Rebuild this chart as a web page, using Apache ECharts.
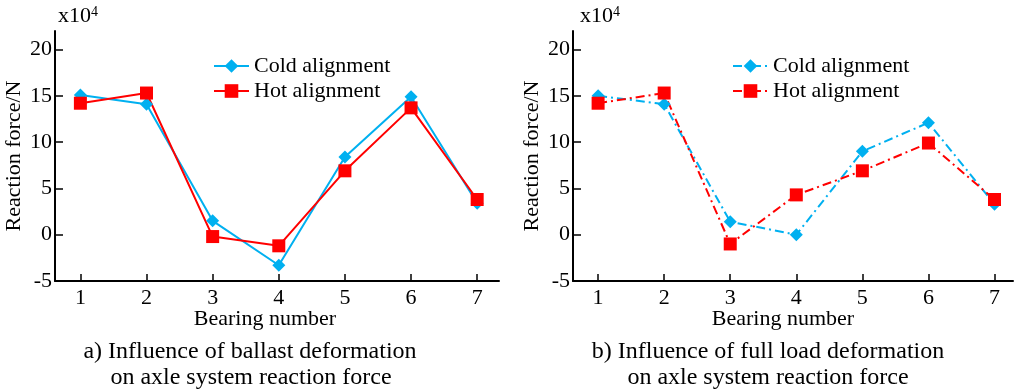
<!DOCTYPE html>
<html>
<head>
<meta charset="utf-8">
<script src="https://cdn.jsdelivr.net/npm/echarts@6/dist/echarts.min.js"></script>
<style>
html,body{margin:0;padding:0;background:#fff;}
#c{width:1022px;height:389px;}
</style>
</head>
<body>
<div id="c"></div>
<script>
// ---- data ----
const bearings = [1, 2, 3, 4, 5, 6, 7];
const yTicks = [-5, 0, 5, 10, 15, 20];
const seriesNames = ['Cold alignment', 'Hot alignment'];
// a) ballast deformation (x10^4 N)
const coldA = [15.1, 14.1, 1.5, -3.3, 8.4, 14.9, 3.4];
const hotA  = [14.2, 15.3, -0.2, -1.2, 6.9, 13.7, 3.8];
// b) full load deformation (x10^4 N)
const coldB = [15.0, 14.1, 1.4, 0.0, 9.0, 12.1, 3.3];
const hotB  = [14.2, 15.3, -1.0, 4.3, 6.9, 9.9, 3.8];
const xLabel = 'Bearing number';
const yLabel = 'Reaction force/N';
const captionA = ['a) Influence of ballast deformation', 'on axle system reaction force'];
const captionB = ['b) Influence of full load deformation', 'on axle system reaction force'];

const CYAN = '#00B0F0', RED = '#FF0000';
const FONT = 'Liberation Serif';
const FS = 22;
const pts = arr => bearings.map((b, i) => [b, arr[i]]);

function xAxis(idx, min, max) {
  return {
    gridIndex: idx, type: 'value', min: min, max: max,
    axisLine: {show: true, onZero: false, lineStyle: {color: '#000', width: 2}},
    axisTick: {show: true, inside: true, length: 7, customValues: bearings, lineStyle: {color: '#000', width: 1.5}},
    axisLabel: {customValues: bearings, color: '#000', fontFamily: FONT, fontSize: FS, margin: 6},
    splitLine: {show: false}
  };
}
function yAxis(idx) {
  return {
    gridIndex: idx, type: 'value', min: -5, max: 22,
    name: yLabel, nameLocation: 'middle', nameRotate: 90, nameGap: 30,
    nameTextStyle: {color: '#000', fontFamily: FONT, fontSize: FS},
    axisLine: {show: true, onZero: false, lineStyle: {color: '#000', width: 2}},
    axisTick: {show: true, inside: true, length: 8, customValues: yTicks, lineStyle: {color: '#000', width: 1.5}},
    axisLabel: {customValues: yTicks, color: '#000', fontFamily: FONT, fontSize: FS, margin: 3},
    splitLine: {show: false}
  };
}
function series(name, data, idx, color, symbol, size, dashed) {
  return {
    name: name, type: 'line', xAxisIndex: idx, yAxisIndex: idx, data: data,
    symbol: symbol, symbolSize: size, showSymbol: true,
    itemStyle: {color: color},
    lineStyle: {color: color, width: 2, type: dashed ? [9, 4, 2, 4] : 'solid'},
    emphasis: {disabled: true}, animation: false
  };
}
function caption(x, y, t, fs) {
  return {type: 'text', x: x, y: y, style: {text: t, fill: '#000', fontFamily: FONT, fontSize: fs, textAlign: 'center', textVerticalAlign: 'middle'}};
}
function sci(x) {
  return {type: 'text', x: x, y: 5, style: {
    text: '{a|x10}{b|4}', fill: '#000', fontFamily: FONT, fontSize: FS,
    rich: {a: {fontFamily: FONT, fontSize: FS, fill: '#000'}, b: {fontFamily: FONT, fontSize: 14, fill: '#000', verticalAlign: 'top', padding: [0,0,8,0]}}
  }};
}
function legend(names, left) {
  return {data: names, left: left, top: 50, orient: 'vertical', itemWidth: 35, itemHeight: 17, itemGap: 3,
    formatter: n => n.trim(),
    textStyle: {color: '#000', fontFamily: FONT, fontSize: FS}, selectedMode: false};
}

const chart = echarts.init(document.getElementById('c'), null, {renderer: 'canvas'});
chart.setOption({
  animation: false,
  backgroundColor: '#fff',
  textStyle: {fontFamily: FONT},
  grid: [
    {left: 55, top: 31, width: 444, height: 250},
    {left: 573, top: 31, width: 440, height: 250}
  ],
  xAxis: [xAxis(0, 0.616, 7.33), xAxis(1, 0.62, 7.28)],
  yAxis: [yAxis(0), yAxis(1)],
  legend: [
    legend(seriesNames.slice(), 208),
    legend(seriesNames.map(n => n + ' '), 727)
  ],
  series: [
    series(seriesNames[0], pts(coldA), 0, CYAN, 'diamond', 13, false),
    series(seriesNames[1], pts(hotA), 0, RED, 'rect', 13, false),
    series(seriesNames[0] + ' ', pts(coldB), 1, CYAN, 'diamond', 13, true),
    series(seriesNames[1] + ' ', pts(hotB), 1, RED, 'rect', 13, true)
  ],
  graphic: [
    sci(58), sci(580),
    caption(265, 319, xLabel, FS), caption(250, 352, captionA[0], 24), caption(251, 378, captionA[1], 24),
    caption(783, 319, xLabel, FS), caption(768, 352, captionB[0], 24), caption(768, 378, captionB[1], 24)
  ]
});
</script>
</body>
</html>
